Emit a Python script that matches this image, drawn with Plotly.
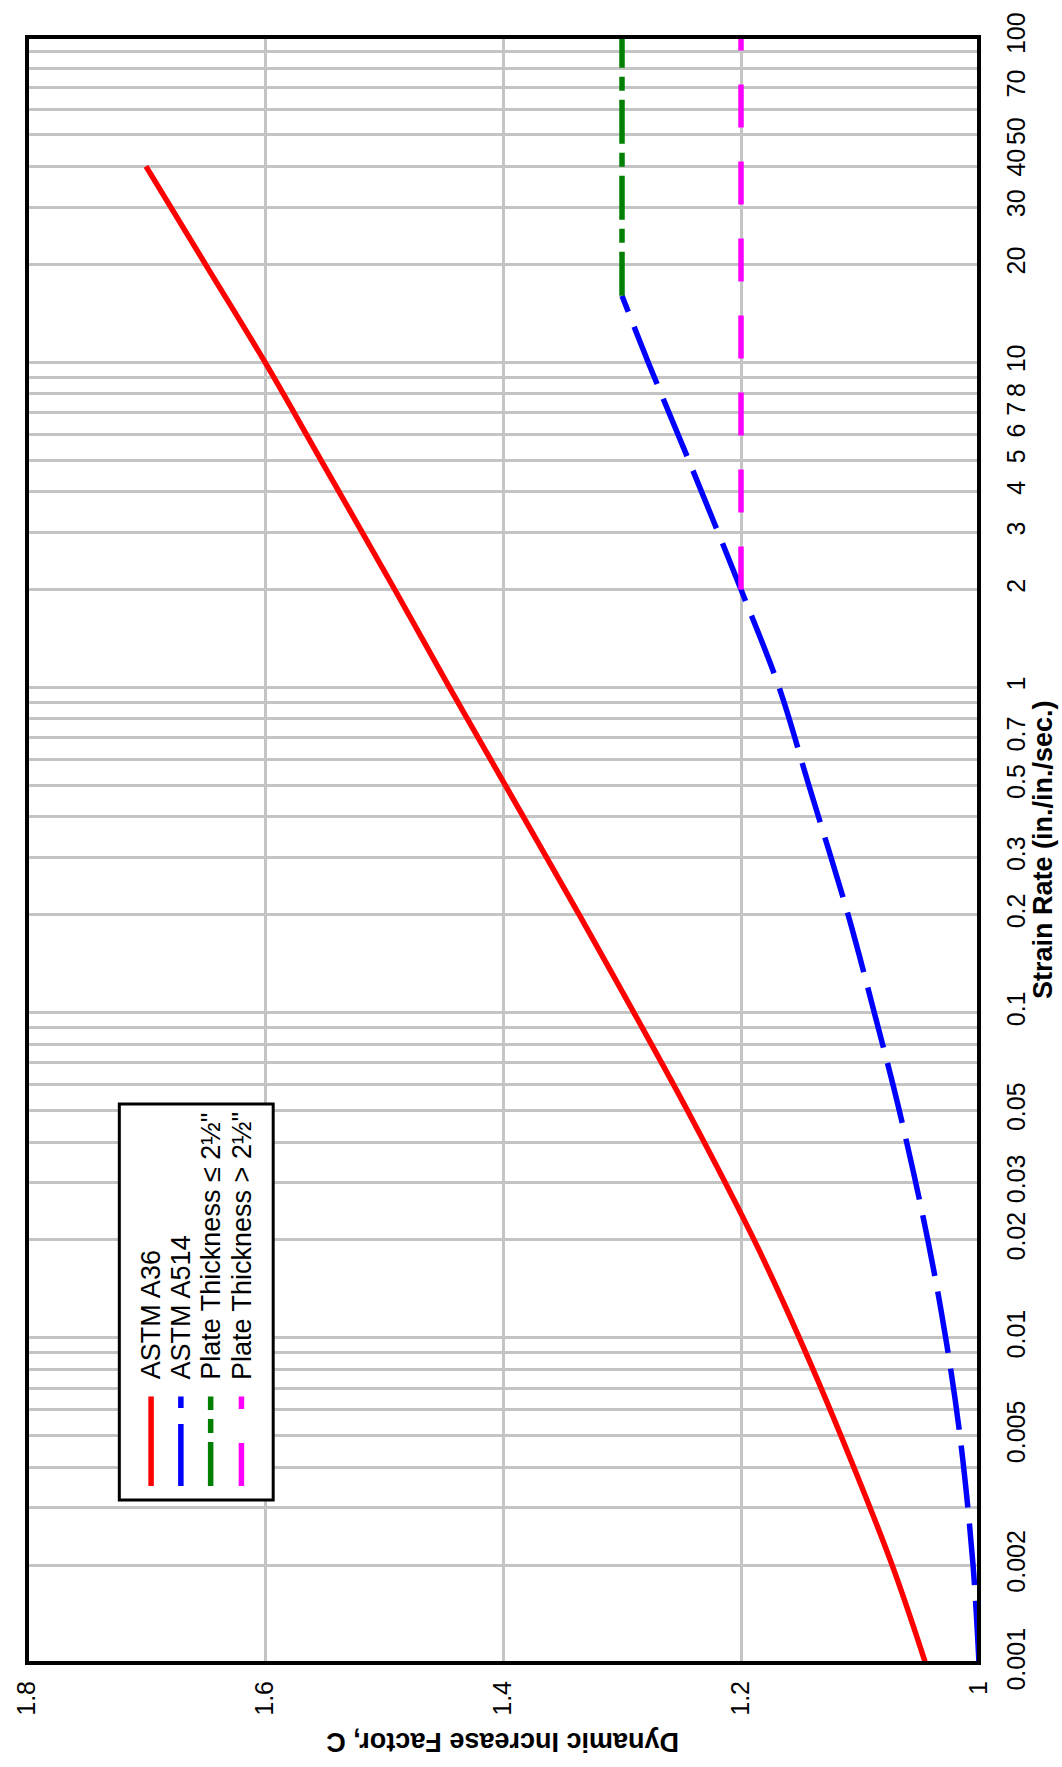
import plotly.graph_objects as go

# ---- data ----
a36_rate = [0.001, 0.002, 0.005, 0.01, 0.02, 0.05, 0.1, 0.2, 0.5, 1, 2, 5, 10, 20, 40]
a36_dif = [1.045, 1.073, 1.116, 1.151, 1.189, 1.245, 1.29, 1.336, 1.398, 1.445, 1.491, 1.553, 1.60, 1.65, 1.70]

a514_rate = [0.001, 0.002, 0.005, 0.01, 0.02, 0.05, 0.1, 0.2, 0.5, 1, 2, 5, 10, 16]
a514_dif = [1.0, 1.005, 1.016, 1.028, 1.043, 1.067, 1.088, 1.11, 1.143, 1.168, 1.2, 1.244, 1.278, 1.30]

thin_rate = [16, 100]
thin_dif = [1.30, 1.30]

thick_rate = [2, 100]
thick_dif = [1.20, 1.20]

legend_names = ["ASTM A36", "ASTM A514", "Plate Thickness \u2264 2\u00bd\"", "Plate Thickness > 2\u00bd\""]
legend_colors = ["#ff0000", "#0000ff", "#008000", "#ff00ff"]
legend_dashes = ["solid", "62px,16px", "44px,9px,14px,9px", "43px,34px"]

rate_labels = {0.001: "0.001", 0.002: "0.002", 0.005: "0.005", 0.01: "0.01", 0.02: "0.02",
               0.03: "0.03", 0.05: "0.05", 0.1: "0.1", 0.2: "0.2", 0.3: "0.3", 0.5: "0.5",
               0.7: "0.7", 1: "1", 2: "2", 3: "3", 4: "4", 5: "5", 6: "6", 7: "7", 8: "8",
               10: "10", 20: "20", 30: "30", 40: "40", 50: "50", 70: "70", 100: "100"}
dif_ticks = [1.8, 1.6, 1.4, 1.2, 1.0]
dif_ticktext = ["1.8", "1.6", "1.4", "1.2", "1"]

# grid positions: every 1..9 multiple in each decade
grid_vals = []
for dec in [0.001, 0.01, 0.1, 1, 10]:
    for m in range(1, 10):
        grid_vals.append(round(m * dec, 6))
grid_vals.append(100)
grid_text = []
for v in grid_vals:
    key = None
    for k in rate_labels:
        if abs(k - v) < 1e-9:
            key = k
    grid_text.append(rate_labels[key] if key is not None else "")

FONT = "Liberation Sans, Arial, sans-serif"
W, H = 1062, 1767
L, R, T, B = 20, 83, 28, 104
PW = W - L - R
PH = H - T - B


def px(x):
    return (x - L) / PW


def py(y):
    return (H - B - y) / PH


fig = go.Figure()
fig.add_trace(go.Scatter(x=a36_dif, y=a36_rate, mode="lines",
                         line=dict(color="#ff0000", width=5.5, shape="spline", smoothing=1.0), showlegend=False))
fig.add_trace(go.Scatter(x=a514_dif, y=a514_rate, mode="lines",
                         line=dict(color="#0000ff", width=5.5, dash="62px,16px", shape="spline", smoothing=1.0), showlegend=False))
fig.add_trace(go.Scatter(x=thin_dif, y=thin_rate, mode="lines", line=dict(color="#008000", width=5.5, dash="44px,9px,14px,9px"), showlegend=False))
fig.add_trace(go.Scatter(x=thick_dif, y=thick_rate, mode="lines", line=dict(color="#ff00ff", width=5.5, dash="43px,34px"), showlegend=False))

shapes = []
# plot frame
shapes.append(dict(type="rect", xref="paper", yref="paper", x0=0, x1=1, y0=0, y1=1,
                   line=dict(color="black", width=4), layer="above"))
# legend box
shapes.append(dict(type="rect", xref="paper", yref="paper", x0=px(113), x1=px(268), y0=py(1499), y1=py(1101),
                   line=dict(color="black", width=3), fillcolor="white", layer="above"))
annotations = []
col_x = [145, 175, 205, 236]
for name, color, dash, cx in zip(legend_names, legend_colors, legend_dashes, col_x):
    shapes.append(dict(type="line", xref="paper", yref="paper", x0=px(cx), x1=px(cx), y0=py(1485), y1=py(1395),
                       line=dict(color=color, width=5.5, dash=dash), layer="above"))
    annotations.append(dict(text=name, xref="paper", yref="paper", x=px(cx), y=py(1380), xanchor="center",
                            yanchor="bottom", textangle=-90, showarrow=False,
                            font=dict(family=FONT, size=27, color="black")))

annotations.append(dict(text="<b>Dynamic Increase Factor, C</b>", xref="paper", yref="paper",
                        x=px(499), y=py(1743), xanchor="center", yanchor="middle", textangle=180,
                        showarrow=False, font=dict(family=FONT, size=27, color="black")))
annotations.append(dict(text="<b>Strain Rate (in./in./sec.)</b>", xref="paper", yref="paper",
                        x=px(1043), y=py(845), xanchor="center", yanchor="middle", textangle=-90,
                        showarrow=False, font=dict(family=FONT, size=27, color="black")))

fig.update_layout(
    width=W, height=H,
    margin=dict(l=L, r=R, t=T, b=B, pad=0),
    paper_bgcolor="white", plot_bgcolor="white",
    showlegend=False,
    shapes=shapes, annotations=annotations,
    xaxis=dict(range=[1.8, 1.0], tickvals=dif_ticks, ticktext=dif_ticktext, tickangle=-90,
               showgrid=True, gridcolor="#c4c4c4", gridwidth=3, zeroline=False, showline=False,
               ticks="", ticklabelstandoff=12,
               tickfont=dict(family=FONT, size=25, color="black")),
    yaxis=dict(type="log", range=[-3, 2], side="right", tickvals=grid_vals, ticktext=grid_text,
               tickangle=-90, showgrid=True, gridcolor="#c4c4c4", gridwidth=3, zeroline=False,
               showline=False, ticks="", ticklabelstandoff=20,
               tickfont=dict(family=FONT, size=25, color="black")),
)

fig.write_html("out.html")
